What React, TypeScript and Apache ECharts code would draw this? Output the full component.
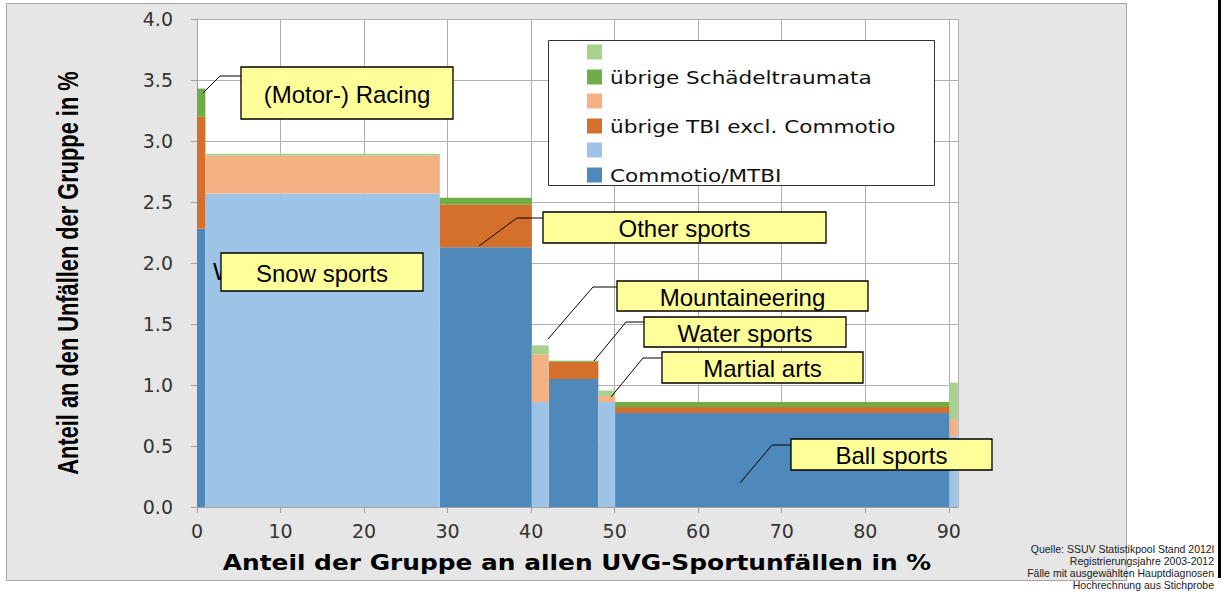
import React, { useEffect, useRef } from 'react';
import * as echarts from 'echarts';

// ---- data ----
const groups = ['(Motor-) Racing', 'Snow sports', 'Other sports', 'Mountaineering', 'Water sports', 'Martial arts', 'Ball sports', 'Rest'];
const groupShare = [1.0, 28.07, 11.0, 2.04, 5.94, 2.0, 40.02, 1.0]; // % of all sport accidents (x width)
const commotio = [2.28, 2.57, 2.13, 0.86, 1.05, 0.86, 0.77, 0.58];
const tbi = [0.92, 0.31, 0.35, 0.39, 0.14, 0.05, 0.05, 0.14];
const skull = [0.23, 0.015, 0.055, 0.075, 0.008, 0.045, 0.04, 0.30];
const lightShade = [false, true, false, true, false, true, false, true];
const yTicks = [0, 0.5, 1, 1.5, 2, 2.5, 3, 3.5, 4];
const xTicks = [0, 10, 20, 30, 40, 50, 60, 70, 80, 90];
const legendNames = ['', 'übrige Schädeltraumata', '', 'übrige TBI excl. Commotio', '', 'Commotio/MTBI'];
const legendColors = ['#a9d18e', '#70ad47', '#f4b183', '#d4702b', '#9dc3e6', '#4f88bb'];
const sourceLines = ['Quelle: SSUV Statistikpool Stand 2012l', 'Registrierungsjahre 2003-2012', 'Fälle mit ausgewählten Hauptdiagnosen', 'Hochrechnung aus Stichprobe'];

// annotation callouts (layout only)
const callouts = [
  { text: '(Motor-) Racing', box: [241, 67, 212, 52], line: [[203, 93], [220, 76], [241, 76]] },
  { text: 'Snow sports', box: [221, 253, 202, 38], line: null },
  { text: 'Other sports', box: [543, 212, 283, 31], line: [[479, 246], [517, 218], [543, 218]] },
  { text: 'Mountaineering', box: [617, 281, 251, 30], line: [[548, 339], [593, 287], [617, 287]] },
  { text: 'Water sports', box: [644, 317, 202, 30], line: [[594, 361], [626, 322], [644, 322]] },
  { text: 'Martial arts', box: [662, 352, 201, 31], line: [[611, 397], [643, 358], [662, 358]] },
  { text: 'Ball sports', box: [791, 439, 201, 31], line: [[740, 483], [772, 445], [791, 445]] },
];

export default function App() {
  const ref = useRef<HTMLDivElement>(null);
  useEffect(() => {
    if (!ref.current) return;
    const chart = echarts.init(ref.current, null, { renderer: 'svg' });

    const x0: number[] = [];
    const x1: number[] = [];
    let acc = 0;
    groupShare.forEach((w) => { x0.push(acc); acc += w; x1.push(acc); });
    const xMax = 91.1;

    const layers = [
      { name: 'Commotio/MTBI', light: false, color: '#4f88bb', lvl: 0 },
      { name: 'Commotio/MTBI (hell)', light: true, color: '#9dc3e6', lvl: 0 },
      { name: 'übrige TBI excl. Commotio', light: false, color: '#d4702b', lvl: 1 },
      { name: 'übrige TBI excl. Commotio (hell)', light: true, color: '#f4b183', lvl: 1 },
      { name: 'übrige Schädeltraumata', light: false, color: '#70ad47', lvl: 2 },
      { name: 'übrige Schädeltraumata (hell)', light: true, color: '#a9d18e', lvl: 2 },
    ];
    const stacks = [commotio, tbi, skull];

    const series = layers.map((L) => {
      const data: number[][] = [];
      groups.forEach((g, i) => {
        if (lightShade[i] !== L.light) return;
        let base = 0;
        for (let k = 0; k < L.lvl; k++) base += stacks[k][i];
        data.push([x0[i], x1[i], base, base + stacks[L.lvl][i]]);
      });
      return {
        type: 'custom',
        name: L.name,
        encode: { x: [0, 1], y: [2, 3] },
        data,
        z: 3,
        renderItem: (params: any, api: any) => {
          const p0 = api.coord([api.value(0), api.value(3)]);
          const p1 = api.coord([api.value(1), api.value(2)]);
          return {
            type: 'rect',
            shape: { x: p0[0], y: p0[1], width: p1[0] - p0[0], height: p1[1] - p0[1] },
            style: { fill: L.color },
          };
        },
      };
    });

    const graphics: any[] = [];
    // ghost "W" behind Snow sports box
    graphics.push({ type: 'text', z: 100, x: 213, y: 271, style: { text: 'W', font: '24px "Liberation Sans"', fill: '#000', align: 'left', verticalAlign: 'middle', textAlign: 'left', textVerticalAlign: 'middle' } });
    callouts.forEach((c) => {
      if (c.line) graphics.push({ type: 'polyline', z: 101, shape: { points: c.line }, style: { stroke: '#000', lineWidth: 1, fill: null } });
      const [bx, by, bw, bh] = c.box;
      graphics.push({ type: 'rect', z: 102, shape: { x: bx, y: by, width: bw, height: bh }, style: { fill: '#ffff99', stroke: '#000', lineWidth: 1.3 } });
      graphics.push({ type: 'text', z: 103, x: bx + bw / 2, y: by + bh / 2 + 1, style: { text: c.text, font: '24px "Liberation Sans"', fill: '#000', align: 'center', verticalAlign: 'middle', textAlign: 'center', textVerticalAlign: 'middle' } });
    });
    // legend
    graphics.push({ type: 'rect', z: 102, shape: { x: 548.5, y: 40.5, width: 386, height: 145 }, style: { fill: '#fff', stroke: '#333', lineWidth: 1 } });
    const rowY = [52, 77, 101, 126, 150, 175];
    legendNames.forEach((n, i) => {
      graphics.push({ type: 'rect', z: 103, shape: { x: 587, y: rowY[i] - 7.5, width: 15, height: 15 }, style: { fill: legendColors[i] } });
      if (n) graphics.push({ type: 'text', z: 103, x: 610, y: rowY[i] + 1, scaleX: 1.27, style: { text: n, font: '17px "DejaVu Sans"', fill: '#111', align: 'left', verticalAlign: 'middle', textAlign: 'left', textVerticalAlign: 'middle' } });
    });
    // axis titles
    graphics.push({ type: 'text', z: 103, x: 68, y: 273, rotation: Math.PI / 2, scaleX: 1.09, scaleY: 1.5, style: { text: 'Anteil an den Unfällen der Gruppe in %', font: 'bold 20px "Liberation Sans"', fill: '#000', align: 'center', verticalAlign: 'middle', textAlign: 'center', textVerticalAlign: 'middle' } });
    graphics.push({ type: 'text', z: 103, x: 577, y: 563, scaleX: 1.13, style: { text: 'Anteil der Gruppe an allen UVG-Sportunfällen in %', font: 'bold 22px "DejaVu Sans"', fill: '#000', align: 'center', verticalAlign: 'middle', textAlign: 'center', textVerticalAlign: 'middle' } });
    // source
    sourceLines.forEach((s, i) => {
      graphics.push({ type: 'text', z: 103, x: 1214, y: 549 + i * 12, style: { text: s, font: '10.5px "Liberation Sans"', fill: '#1a1a1a', align: 'right', verticalAlign: 'middle', textAlign: 'right', textVerticalAlign: 'middle' } });
    });

    chart.setOption({
      animation: false,
      grid: { left: 197, top: 19, right: 267, bottom: 89, show: true, backgroundColor: '#ffffff', borderWidth: 0 },
      xAxis: {
        type: 'value', min: 0, max: xMax, interval: 10,
        axisLine: { show: true, lineStyle: { color: '#a0a0a0' } },
        axisTick: { show: true, length: 6, lineStyle: { color: '#a0a0a0' } },
        axisLabel: { margin: 14, fontSize: 19, fontFamily: 'DejaVu Sans', color: '#333', showMaxLabel: false,
          formatter: (v: number) => (xTicks.indexOf(v) >= 0 ? String(v) : '') },
        splitLine: { show: true, lineStyle: { color: '#b0b0b0', width: 1 } },
      },
      yAxis: {
        type: 'value', min: yTicks[0], max: yTicks[yTicks.length - 1], interval: 0.5,
        axisLine: { show: true, lineStyle: { color: '#a0a0a0' } },
        axisTick: { show: true, length: 6, lineStyle: { color: '#a0a0a0' } },
        axisLabel: { margin: 24, fontSize: 19, fontFamily: 'DejaVu Sans', color: '#333', formatter: (v: number) => v.toFixed(1) },
        splitLine: { show: true, lineStyle: { color: '#b0b0b0', width: 1 } },
      },
      series,
      graphic: { elements: graphics },
    });
    return () => chart.dispose();
  }, []);

  return (
    <div style={{ position: 'absolute', left: 0, top: 0, width: 1225, height: 596, background: '#fff' }}>
      <div style={{ position: 'absolute', left: 6, top: 3, width: 1121, height: 578, background: '#e6e6e6', border: '1px solid #a6a6a6', boxSizing: 'border-box' }} />
      <div style={{ position: 'absolute', left: 1218, top: 0, width: 3, height: 578, background: '#000' }} />
      <div ref={ref} style={{ position: 'absolute', left: 0, top: 0, width: 1225, height: 596 }} />
    </div>
  );
}
